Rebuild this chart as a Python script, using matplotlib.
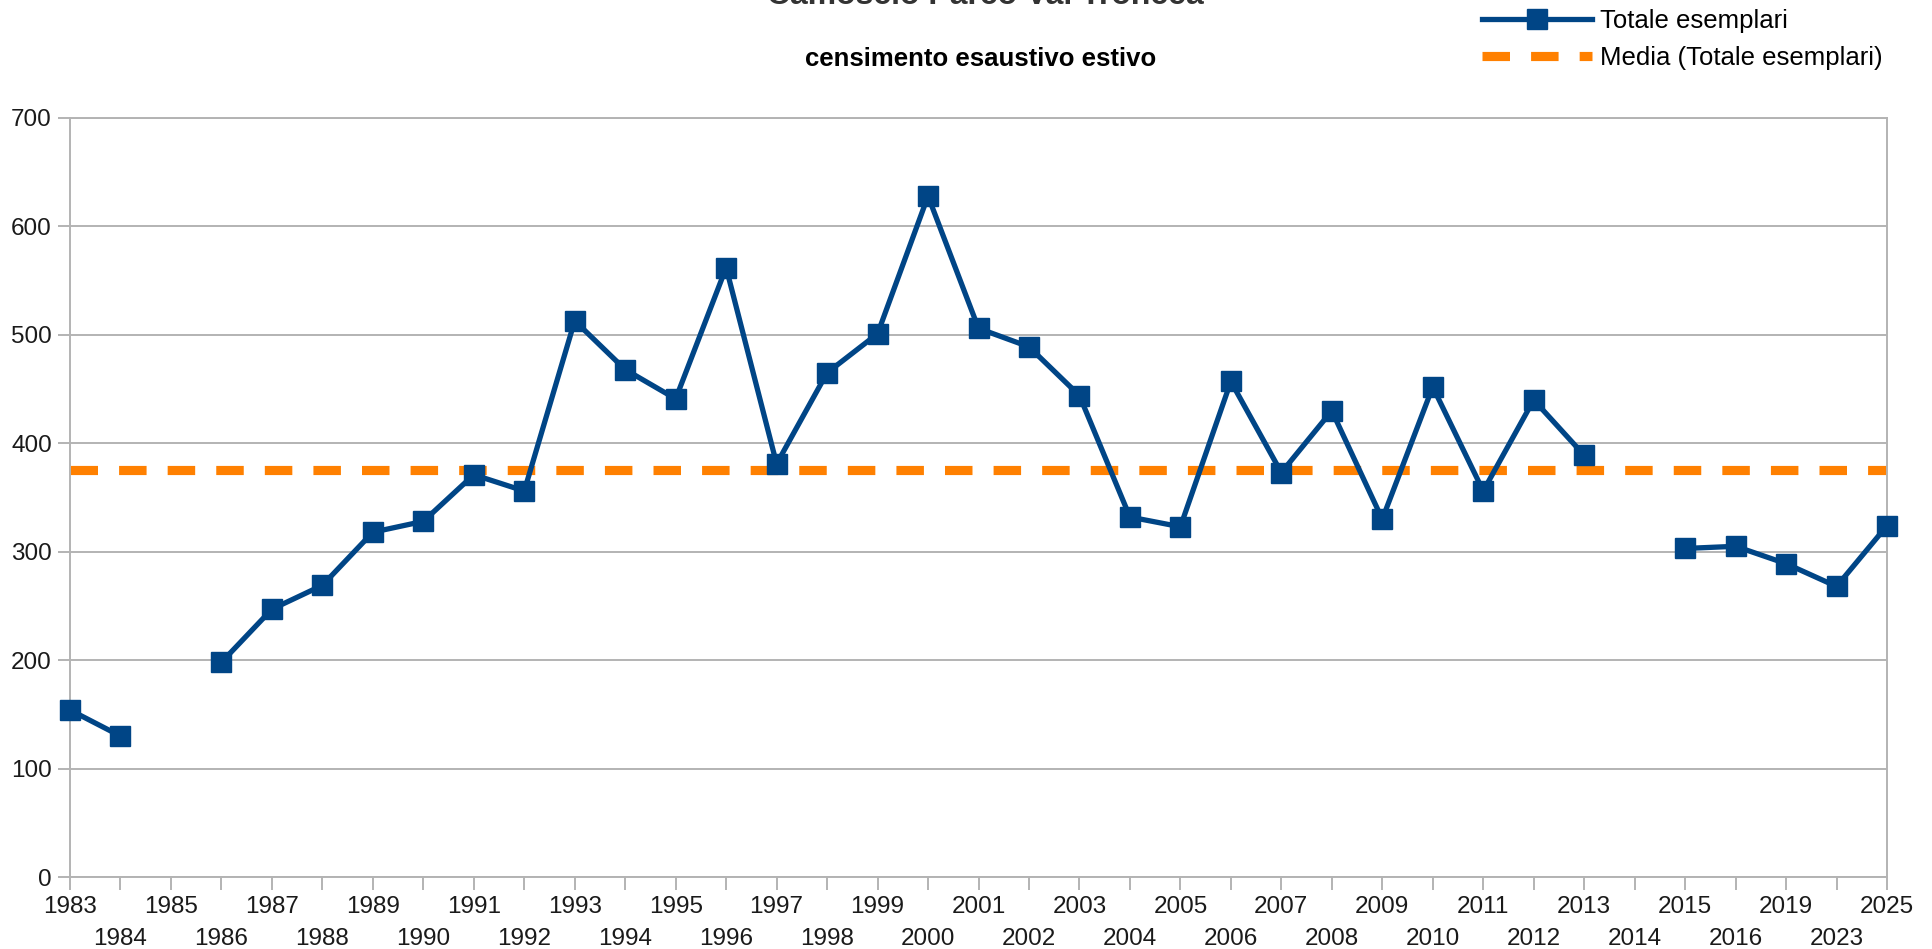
import numpy as np
import matplotlib
matplotlib.use("Agg")
import matplotlib.pyplot as plt

plt.rcParams['font.family'] = ['Liberation Sans', 'DejaVu Sans']

years = ["1983", "1984", "1985", "1986", "1987", "1988", "1989", "1990", "1991", "1992",
         "1993", "1994", "1995", "1996", "1997", "1998", "1999", "2000", "2001", "2002",
         "2003", "2004", "2005", "2006", "2007", "2008", "2009", "2010", "2011", "2012",
         "2013", "2014", "2015", "2016", "2019", "2023", "2025"]
totale = [154, 130, np.nan, 198, 247, 269, 318, 328, 371, 356,
          513, 468, 441, 562, 381, 465, 501, 628, 506, 489,
          444, 332, 323, 457, 373, 430, 330, 452, 356, 440,
          389, np.nan, 303, 305, 289, 268, 324]
series_label = "Totale esemplari"
mean_label = "Media (Totale esemplari)"
title = "Camoscio Parco Val Troncea"
subtitle = "censimento esaustivo estivo"
yticks = [0, 100, 200, 300, 400, 500, 600, 700]

W, H = 1932, 949
fig = plt.figure(figsize=(W / 100, H / 100), dpi=100)
ax = fig.add_axes([70 / W, 1 - 877 / H, (1887 - 70) / W, (877 - 118) / H])

x = np.arange(len(years))
vals = np.array(totale, dtype=float)
mean_val = np.nanmean(vals)

grid_c = '#b3b3b3'
blue = '#004586'
orange = '#ff8000'

for v in yticks:
    ax.axhline(v, color=grid_c, lw=1.4, zorder=1)

line, = ax.plot(x, vals, color=blue, lw=3.8, marker='s', markersize=14,
                markeredgecolor=blue, markerfacecolor=blue, zorder=3,
                clip_on=False, label=series_label)
mline, = ax.plot([x[0], x[-1]], [mean_val, mean_val], color=orange, lw=6.6,
                 dashes=(3.0, 2.3), solid_capstyle='butt', dash_capstyle='butt',
                 zorder=2, label=mean_label)

ax.set_xlim(x[0], x[-1])
ax.set_ylim(0, 700)
ax.set_yticks(yticks)
ax.set_xticks(x)
ax.set_xticklabels(years)
ax.tick_params(axis='both', length=9, width=1.4, color=grid_c, labelsize=17.5, labelcolor='#1a1a1a')
ax.tick_params(axis='y', pad=4)
ax.tick_params(axis='x', pad=5)
for i, t in enumerate(ax.xaxis.get_major_ticks()):
    if i % 2 == 1:
        t.set_pad(5 + 23)

for s in ax.spines.values():
    s.set_color(grid_c)
    s.set_linewidth(1.4)

fig.text(985 / W, 1 - 4 / H, title, ha='center', va='baseline', fontsize=23,
         fontweight='bold', color='#333333')
fig.text(981 / W, 1 - 59 / H, subtitle, ha='center', va='center', fontsize=18.5,
         fontweight='bold', color='black')

fig.legend(handles=[line, mline], loc='upper left', bbox_to_anchor=(1482 / W, 1 - 9 / H),
           frameon=False, fontsize=18.5, handlelength=4.3, handletextpad=0.3,
           labelspacing=0.5, borderpad=0, borderaxespad=0)

fig.savefig("out.png", dpi=100)
